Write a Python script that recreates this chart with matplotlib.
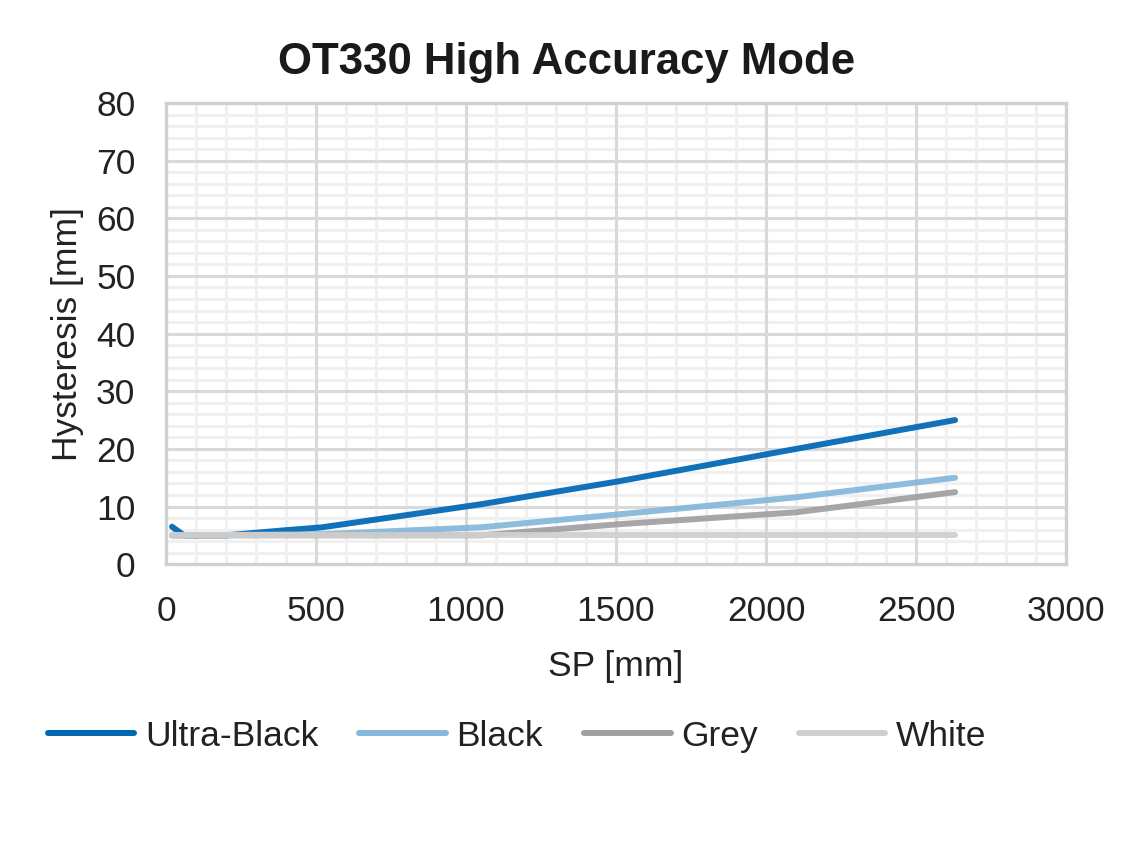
import matplotlib
matplotlib.use("Agg")
import matplotlib.pyplot as plt
from matplotlib.ticker import MultipleLocator

plt.rcParams['font.family'] = ['Liberation Sans', 'DejaVu Sans']

# data
ub_x = [20, 60, 200, 400, 520, 800, 1050, 1500, 2100, 2630]
ub_y = [6.5, 5.0, 5.0, 5.9, 6.4, 8.5, 10.4, 14.3, 20.0, 25.0]
bl_x = [20, 520, 1050, 1500, 2100, 2630]
bl_y = [5.0, 5.2, 6.4, 8.6, 11.6, 15.0]
gr_x = [20, 520, 1050, 1500, 2100, 2630]
gr_y = [5.0, 5.0, 5.0, 6.9, 9.0, 12.5]
wh_x = [20, 520, 1050, 1500, 2100, 2630]
wh_y = [5.0, 5.0, 5.0, 5.0, 5.0, 5.0]

series = [
    ('Ultra-Black', ub_x, ub_y, '#0067b4'),
    ('Black', bl_x, bl_y, '#86b7da'),
    ('Grey', gr_x, gr_y, '#a0a0a3'),
    ('White', wh_x, wh_y, '#cfcfcf'),
]

fig = plt.figure(figsize=(11.34, 8.64), dpi=100)
ax = fig.add_axes([0.1464, 0.347, 0.7937, 0.5338])

for name, xs, ys, col in series:
    ax.plot(xs, ys, color=col, lw=4.3, alpha=0.93, solid_capstyle='round',
            solid_joinstyle='round', label=name, zorder=3)

ax.set_xlim(0, 3000)
ax.set_ylim(0, 80)
ax.xaxis.set_major_locator(MultipleLocator(500))
ax.xaxis.set_minor_locator(MultipleLocator(100))
ax.yaxis.set_major_locator(MultipleLocator(10))
ax.yaxis.set_minor_locator(MultipleLocator(2))
ax.grid(which='minor', color='#f0f0f0', lw=2.2)
ax.set_axisbelow(True)
# major grid drawn above the minor one
for v in range(500, 3000, 500):
    ax.axvline(v, color='#d9d9d9', lw=2.2, zorder=1)
for h in range(10, 80, 10):
    ax.axhline(h, color='#d9d9d9', lw=2.2, zorder=1)
for s in ax.spines.values():
    s.set_color('#d0d0d0')
    s.set_linewidth(2.4)
ax.tick_params(which='both', length=0, labelsize=25.5, colors='#222222', pad=22)

fig.text(0.5, 0.928, 'OT330 High Accuracy Mode', fontsize=31.5, fontweight='bold',
         color='#1a1a1a', ha='center', va='center')
ax.set_xlabel('SP [mm]', fontsize=25.5, color='#222222', labelpad=16)
ax.set_ylabel('Hysteresis [mm]', fontsize=25.5, color='#222222', labelpad=9)

leg = fig.legend(loc='center', bbox_to_anchor=(0.456, 0.148), ncol=4,
                 frameon=False, fontsize=25.5, handlelength=2.45,
                 handletextpad=0.3, columnspacing=1.15)
for line in leg.get_lines():
    line.set_alpha(1)
    line.set_linewidth(4.3)
for t in leg.get_texts():
    t.set_color('#222222')

fig.savefig('out.png', dpi=100)
